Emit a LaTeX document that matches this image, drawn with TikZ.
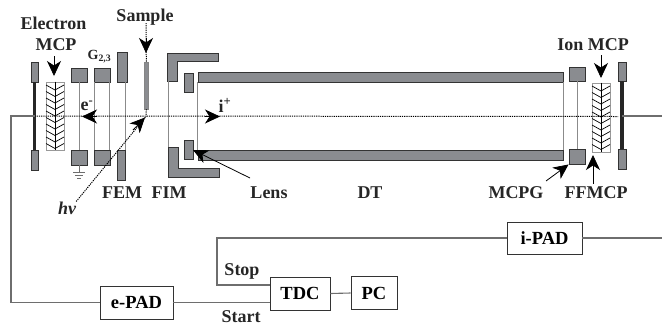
\documentclass[tikz,border=0pt]{standalone}
\usepackage{fontspec}
\setmainfont{Liberation Serif}
\usetikzlibrary{arrows.meta}
\definecolor{partgray}{HTML}{8A8C90}
\definecolor{wiregray}{HTML}{6E6E6E}
\definecolor{edgegray}{HTML}{333333}
\tikzset{
  part/.style={draw=edgegray,fill=partgray,line width=0.9pt,inner sep=0pt},
  gridline/.style={draw=wiregray!80,line width=1pt},
  wire/.style={draw=wiregray,line width=1.1pt},
  beam/.style={dash pattern=on 1.2pt off 1pt,line width=1pt,black},
  pointer/.style={-{Stealth[length=15pt,width=14pt,inset=4.5pt]},line width=0.8pt,black},
  lab/.style={font=\bfseries\fontsize{18}{20}\selectfont,inner sep=0pt,text=black!85},
  padbox/.style={draw=edgegray,line width=0.9pt,fill=white,inner sep=0pt,font=\bfseries\fontsize{18.5}{20}\selectfont}
}
\begin{document}
\begin{tikzpicture}[x=1pt,y=-1pt]
  \useasboundingbox (0,0) rectangle (662,325);

  % electron side
  \node[part,minimum width=7pt,minimum height=20pt] (ecoltop) at (34.5,72) {};
  \node[part,minimum width=7pt,minimum height=20pt] (ecolbot) at (34.5,160) {};
  \draw[line width=3pt,black!85] (ecoltop.south) -- (ecolbot.north);
  \node[draw=black!40,line width=0.7pt,minimum width=18pt,minimum height=68pt,inner sep=0pt] (emcp) at (55,116) {};
  \foreach \y in {85,91.5,...,146} {
    \draw[line width=0.7pt] (46,\y) -- (55,\y+5) -- (64,\y);
  }
  \draw[line width=0.7pt] (emcp.north) -- (emcp.south);

  \node[part,minimum width=16pt,minimum height=14pt] (gonetop) at (79,75) {};
  \node[part,minimum width=16pt,minimum height=15pt] (gonebot) at (79,157.5) {};
  \draw[gridline] (gonetop) -- (gonebot);
  \node[part,minimum width=16pt,minimum height=14pt] (gtwotop) at (102,75) {};
  \node[part,minimum width=16pt,minimum height=15pt] (gtwobot) at (102,157.5) {};
  \draw[gridline] ([xshift=1pt]gtwotop.south west) -- ([xshift=1pt]gtwobot.north west);
  \draw[gridline] ([xshift=-1pt]gtwotop.south east) -- ([xshift=-1pt]gtwobot.north east);
  \node[part,minimum width=10pt,minimum height=30pt] (femtop) at (122,67) {};
  \node[part,minimum width=8pt,minimum height=30pt] (fembot) at (121.5,165) {};
  \draw[gridline] (125,82) -- (125,150);

  % ground
  \draw[wire,line width=0.7pt] (gonebot.south) -- (79,172);
  \draw[wire,line width=0.7pt] (73,172) -- (85,172) (75,175) -- (83,175) (77,178) -- (81,178);

  % sample
  \node[part,draw=edgegray!60,line width=0.5pt,minimum width=3.5pt,minimum height=47pt] (sample) at (146.3,85.5) {};

  % ion optics
  \draw[part] (167,53) -- (218,53) -- (218,61) -- (177,61) -- (177,81) -- (167,81) -- cycle;
  \draw[part] (168,147) -- (178,147) -- (178,168) -- (219,168) -- (219,177) -- (168,177) -- cycle;
  \draw[gridline] (168.5,81) -- (168.5,147);
  \node[part,minimum width=9pt,minimum height=19pt] (lenstop) at (188.5,82.5) {};
  \node[part,minimum width=9pt,minimum height=19pt] (lensbot) at (188.5,149.5) {};

  % drift tube
  \node[part,minimum width=365pt,minimum height=10pt] (dttop) at (380.5,77) {};
  \node[part,minimum width=365pt,minimum height=10pt] (dtbot) at (380.5,155) {};
  \draw[gridline] (dttop.south west) -- (dtbot.north west);
  \draw[gridline] (dttop.south east) -- (dtbot.north east);

  % ion side
  \node[part,minimum width=16pt,minimum height=14pt] (mcpgtop) at (577,74) {};
  \node[part,minimum width=16pt,minimum height=15pt] (mcpgbot) at (577,156.5) {};
  \draw[gridline] (mcpgtop) -- (mcpgbot);
  \node[draw=black!40,line width=0.7pt,minimum width=18pt,minimum height=69pt,inner sep=0pt] (imcp) at (601,117.5) {};
  \foreach \y in {86,92.5,...,147} {
    \draw[line width=0.7pt] (592,\y) -- (601,\y+5) -- (610,\y);
  }
  \draw[line width=0.7pt] (imcp.north) -- (imcp.south);
  \node[part,minimum width=8pt,minimum height=19pt] (icoltop) at (622,71.5) {};
  \node[part,minimum width=8pt,minimum height=20pt] (icolbot) at (622,159) {};
  \draw[line width=3.5pt,black!85] (icoltop.south) -- (icolbot.north);

  % beam and pointers
  \coordinate (origin) at (146,116.5);
  \coordinate (beamend) at (618,116.5);
  \coordinate (ewire) at (34.5,116);
  \coordinate (iwire) at (622,116);
  \draw[beam] (ewire) -- (beamend);
  \draw[beam] (146,23) -- (sample.north);
  \draw[beam] (sample.south) -- (origin);
  \draw[pointer] (97,116.5) -- (82,116.5);
  \draw[pointer] (205,116.5) -- (220,116.5);
  \draw[pointer] (146,38) -- (146,53);

  \node[lab] (electron) at (53.5,23) {Electron};
  \node[lab] (mcp) at (56,45) {MCP};
  \node[lab] (samplelab) at (145,17) {Sample};
  \node[lab] (ionmcp) at (593,45) {Ion MCP};
  \node[lab,font=\bfseries\fontsize{14}{15}\selectfont] (gtwolab) at (99.5,57) {G\textsubscript{2,3}};
  \node[lab] (elab) at (87,105.5) {e\textsuperscript{-}};
  \node[lab] (ilab) at (225,105.5) {i\textsuperscript{+}};
  \node[lab,font=\fontsize{18}{20}\selectfont\bfseries\itshape] (hv) at (67,208) {hv};
  \node[lab] (femlab) at (122,192.5) {FEM};
  \node[lab] (fimlab) at (169,192.5) {FIM};
  \node[lab] (lenslab) at (269,192.5) {Lens};
  \node[lab] (dtlab) at (370,192.5) {DT};
  \node[lab] (mcpglab) at (516,192.5) {MCPG};
  \node[lab] (ffmcp) at (596,192.5) {FFMCP};

  \draw[pointer] (54,56) -- (54,76);
  \draw[pointer] (601,55) -- (601,78);
  \draw[pointer] (593,184) -- (593,155);
  \draw[pointer] (546,181) -- (mcpgbot.south west);
  \draw[pointer] (250,178) -- (193,150);
  \draw[beam] (hv.north east) -- (origin);
  \draw[pointer] (133,130) -- (145,117.5);

  % electronics
  \node[padbox,minimum width=73pt,minimum height=33pt] (epad) at (136.5,302.5) {e-PAD};
  \node[padbox,minimum width=60pt,minimum height=33pt] (tdc) at (300,293.5) {TDC};
  \node[padbox,minimum width=46pt,minimum height=33pt] (pc) at (374,293) {PC};
  \node[padbox,minimum width=75pt,minimum height=32pt] (ipad) at (544.5,238) {i-PAD};
  \coordinate (eout) at (11,116);
  \coordinate (ifar) at (662,116);
  \coordinate (ipadfar) at (662,238);
  \coordinate (stopcorner) at (217,238);

  \draw[wire] (ewire) -- (eout) |- (epad.west);
  \draw[wire] (iwire) -- (ifar);
  \draw[wire] (epad.east) -- (epad.east -| tdc.west);
  \draw[wire] (tdc.east) -- (pc.west);
  \draw[wire] ([yshift=8.5pt]tdc.west) -| (stopcorner) -- (ipad.west);
  \draw[wire] (ipad.east) -- (ipadfar);

  \node[lab] (stoplab) at (242,271.5) {Stop};
  \node[lab] (startlab) at (241,316.5) {Start};
\end{tikzpicture}
\end{document}
